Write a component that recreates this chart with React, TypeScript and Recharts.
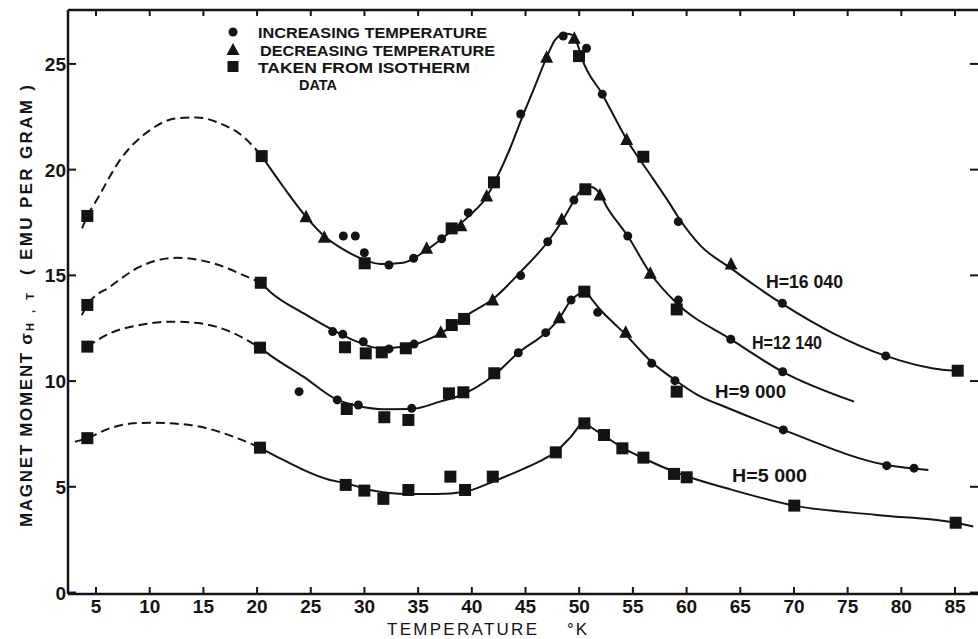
import React from 'react';
import { ComposedChart, Line, Scatter, XAxis, YAxis, ReferenceLine } from 'recharts';

const W = 978;
const H = 639;
const PLOT_TOP = 10;
const PLOT_RIGHT = 978;
const INK = '#141414';
const FONT = '"Liberation Sans", Arial, sans-serif';

const tempTicks = [5, 10, 15, 20, 25, 30, 35, 40, 45, 50, 55, 60, 65, 70, 75, 80, 85];
const momentTicks = [0, 5, 10, 15, 20, 25];
const tempDomain = [2.39, 87.14];
const momentDomain = [-0.07, 27.55];

// drawn curves, [T, sigma]; dashed = extrapolated below 20 K
const dash16040 = [[3.7, 17.22], [4.19, 17.81], [5.06, 18.56], [7.24, 20.46], [10.03, 21.87], [12.51, 22.43], [14.38, 22.47], [16.55, 22.19], [18.72, 21.56], [20.43, 20.64]];
const fit16040 = [[20.43, 20.64], [22.44, 19.19], [24.56, 17.77], [26.33, 16.83], [28.03, 16.23], [30.02, 15.73], [31.45, 15.54], [33.62, 15.6], [35.79, 16.2], [38.12, 17.11], [39.83, 17.85], [41.38, 18.72], [42.16, 19.45], [43.56, 21.0], [44.55, 22.3], [45.73, 23.76], [46.97, 25.31], [47.74, 26.13], [48.67, 26.44], [49.45, 26.36], [49.92, 25.81], [50.23, 25.3], [52.15, 23.57], [54.42, 21.43], [56.9, 19.55], [58.3, 18.5], [59.23, 17.75], [61.25, 16.43], [64.14, 15.33], [66.53, 14.46], [68.92, 13.65], [73.66, 12.26], [78.55, 11.19], [82.98, 10.6], [85.0, 10.49]];

const dash12140 = [[3.67, 13.12], [4.19, 13.6], [6.3, 14.46], [9.1, 15.41], [12.52, 15.83], [15.93, 15.57], [19.04, 14.94], [20.34, 14.65]];
const fit12140 = [[20.34, 14.65], [21.2, 14.23], [24.31, 13.21], [27.04, 12.42], [28.96, 11.94], [31.45, 11.55], [33.84, 11.63], [35.79, 11.94], [37.1, 12.26], [39.83, 13.21], [41.94, 13.87], [44.55, 15.17], [47.07, 16.59], [48.37, 17.54], [49.51, 18.53], [50.07, 18.96], [51.0, 19.19], [51.78, 18.96], [52.56, 18.25], [54.52, 16.86], [56.62, 15.1], [59.08, 13.68], [64.11, 11.98], [68.95, 10.44], [75.6, 9.03]];

const dash9000 = [[4.19, 11.63], [6.3, 12.26], [9.1, 12.65], [11.89, 12.81], [14.69, 12.73], [17.48, 12.34], [20.27, 11.58]];
const fit9000 = [[20.27, 11.58], [21.2, 11.23], [24.31, 10.21], [27.47, 9.11], [29.43, 8.82], [31.76, 8.67], [34.4, 8.68], [37.04, 9.03], [38.59, 9.26], [42.09, 10.29], [44.33, 11.34], [46.88, 12.29], [48.15, 12.97], [49.24, 13.83], [50.07, 14.15], [50.54, 14.26], [51.2, 13.85], [52.0, 13.35], [53.2, 12.75], [54.33, 12.2], [55.5, 11.55], [56.75, 10.9], [58.92, 10.05], [61.0, 9.35], [63.73, 8.75], [69.01, 7.69], [78.64, 6.03], [82.52, 5.8]];

const dash5000 = [[3.04, 7.13], [4.19, 7.3], [6.3, 7.77], [8.47, 8.0], [10.03, 8.03], [12.82, 7.97], [15.31, 7.77], [17.79, 7.37], [20.27, 6.85]];
const fit5000 = [[20.27, 6.85], [21.2, 6.59], [23.07, 6.11], [24.31, 5.8], [26.79, 5.32], [28.25, 5.17], [30.52, 4.85], [34.09, 4.66], [36.73, 4.66], [39.37, 4.77], [41.95, 5.24], [44.8, 5.85], [46.5, 6.25], [47.82, 6.66], [49.2, 7.35], [50.48, 8.05], [51.2, 7.78], [52.31, 7.42], [54.02, 6.85], [55.98, 6.35], [58.83, 5.72], [60.01, 5.5], [63.73, 4.93], [70.03, 4.11], [77.7, 3.67], [85.06, 3.3], [86.7, 3.12]];

// measured points: c = increasing T, t = decreasing T, s = from isotherm data
const pts16040 = [['s', 4.19, 17.81], ['s', 20.43, 20.64], ['t', 24.56, 17.77], ['t', 26.26, 16.8], ['c', 28.03, 16.86], ['c', 29.15, 16.86], ['c', 29.99, 16.07], ['s', 30.02, 15.57], ['c', 32.28, 15.49], ['c', 34.58, 15.81], ['t', 35.79, 16.28], ['c', 37.19, 16.73], ['s', 38.12, 17.22], ['t', 38.99, 17.35], ['c', 39.67, 17.96], ['t', 41.38, 18.75], ['s', 42.06, 19.4], ['c', 44.55, 22.63], ['t', 46.97, 25.31], ['c', 48.51, 26.32], ['t', 49.54, 26.21], ['c', 50.68, 25.74], ['s', 49.98, 25.37], ['c', 52.15, 23.57], ['t', 54.42, 21.43], ['s', 55.97, 20.61], ['c', 59.23, 17.54], ['t', 64.14, 15.54], ['c', 68.92, 13.68], ['c', 78.55, 11.19], ['s', 85.25, 10.49]];
const pts12140 = [['s', 4.19, 13.6], ['s', 20.34, 14.65], ['c', 27.04, 12.34], ['c', 27.98, 12.21], ['s', 28.19, 11.6], ['c', 29.89, 11.86], ['s', 30.12, 11.31], ['s', 31.61, 11.36], ['c', 32.29, 11.52], ['s', 33.85, 11.55], ['c', 34.62, 11.75], ['t', 37.11, 12.31], ['s', 38.13, 12.65], ['s', 39.28, 12.94], ['t', 41.94, 13.83], ['c', 44.55, 14.99], ['c', 47.07, 16.59], ['t', 48.37, 17.65], ['c', 49.51, 18.56], ['s', 50.57, 19.07], ['t', 51.93, 18.8], ['c', 54.52, 16.86], ['t', 56.62, 15.1], ['s', 59.08, 13.39], ['c', 59.23, 13.83], ['c', 64.11, 11.98], ['c', 68.95, 10.44]];
const pts9000 = [['s', 4.19, 11.63], ['s', 20.27, 11.58], ['c', 23.91, 9.5], ['c', 27.47, 9.11], ['s', 28.35, 8.68], ['c', 29.43, 8.87], ['s', 31.85, 8.29], ['s', 34.09, 8.16], ['c', 34.4, 8.71], ['s', 37.87, 9.42], ['s', 39.21, 9.47], ['s', 42.09, 10.37], ['c', 44.33, 11.34], ['c', 46.88, 12.29], ['t', 48.15, 13.0], ['c', 49.24, 13.83], ['s', 50.48, 14.23], ['c', 51.72, 13.25], ['t', 54.33, 12.31], ['c', 56.75, 10.84], ['c', 58.92, 10.02], ['s', 59.08, 9.5], ['c', 69.01, 7.69], ['c', 78.64, 6.0], ['c', 81.18, 5.88]];
const pts5000 = [['s', 4.19, 7.3], ['s', 20.27, 6.85], ['s', 28.25, 5.09], ['s', 29.99, 4.82], ['s', 31.76, 4.43], ['s', 34.09, 4.85], ['s', 38.0, 5.48], ['s', 39.37, 4.85], ['s', 41.95, 5.48], ['s', 47.82, 6.63], ['s', 50.48, 8.0], ['s', 52.31, 7.45], ['s', 54.02, 6.82], ['s', 55.98, 6.38], ['s', 58.83, 5.61], ['s', 60.01, 5.45], ['s', 70.03, 4.11], ['s', 85.06, 3.3]];

const fieldLabels = ['H=16 040', 'H=12 140', 'H=9 000', 'H=5 000'];
const legendLabels = ['INCREASING TEMPERATURE', 'DECREASING TEMPERATURE', 'TAKEN FROM ISOTHERM', 'DATA'];

const toPts = (a: number[][]) => a.map(([t, m]) => ({ t, m }));
const allPts = [...pts16040, ...pts12140, ...pts9000, ...pts5000] as [string, number, number][];
const byKind = (k: string) => allPts.filter(p => p[0] === k).map(([, t, m]) => ({ t, m }));

const curves = [
  { key: 'd16040', data: dash16040, dashed: true },
  { key: 'f16040', data: fit16040, dashed: false },
  { key: 'd12140', data: dash12140, dashed: true },
  { key: 'f12140', data: fit12140, dashed: false },
  { key: 'd9000', data: dash9000, dashed: true },
  { key: 'f9000', data: fit9000, dashed: false },
  { key: 'd5000', data: dash5000, dashed: true },
  { key: 'f5000', data: fit5000, dashed: false },
];

const Dot = (p: any) => <circle cx={p.cx} cy={p.cy} r={4.5} fill={INK} />;
const Tri = (p: any) => (
  <polygon points={`${p.cx},${p.cy - 7} ${p.cx + 6.5},${p.cy + 5.5} ${p.cx - 6.5},${p.cy + 5.5}`} fill={INK} />
);
const Sq = (p: any) => <rect x={p.cx - 6} y={p.cy - 6} width={12} height={12} fill={INK} />;

const TempTick = (p: any) => {
  const { x, y, payload } = p;
  return (
    <g>
      <line x1={x} x2={x} y1={y} y2={y - 7} stroke={INK} strokeWidth={2} />
      <line x1={x} x2={x} y1={PLOT_TOP} y2={PLOT_TOP + 6} stroke={INK} strokeWidth={2} />
      <text x={x} y={y + 19} textAnchor="middle" fontFamily={FONT} fontWeight="bold" fontSize={19} fill={INK}>
        {payload.value}
      </text>
    </g>
  );
};

const MomentTick = (p: any) => {
  const { x, y, payload } = p;
  return (
    <g>
      <line x1={x} x2={x + 8} y1={y} y2={y} stroke={INK} strokeWidth={2} />
      <line x1={PLOT_RIGHT} x2={PLOT_RIGHT - 8} y1={y} y2={y} stroke={INK} strokeWidth={2} />
      <text x={x - 2} y={y + 7} textAnchor="end" fontFamily={FONT} fontWeight="bold" fontSize={19} fill={INK}>
        {payload.value}
      </text>
    </g>
  );
};

const txt = { fontFamily: FONT, fill: INK } as const;

export default function App() {
  return (
    <div style={{ position: 'relative', width: W, height: H, background: '#fff' }}>
      <style>{'body{margin:0;background:#fff}'}</style>
      <ComposedChart width={W} height={H} margin={{ top: PLOT_TOP, right: 0, bottom: 0, left: 0 }}>
        <XAxis
          type="number"
          dataKey="t"
          domain={tempDomain}
          allowDataOverflow
          ticks={tempTicks}
          interval={0}
          tickSize={0}
          tickMargin={0}
          tick={<TempTick />}
          height={45}
          axisLine={{ stroke: INK, strokeWidth: 2.5 }}
        />
        <YAxis
          type="number"
          dataKey="m"
          domain={momentDomain}
          allowDataOverflow
          ticks={momentTicks}
          interval={0}
          tickSize={0}
          tickMargin={0}
          tick={<MomentTick />}
          width={68}
          axisLine={{ stroke: INK, strokeWidth: 2.5 }}
        />
        <ReferenceLine y={momentDomain[1]} stroke={INK} strokeWidth={2.5} />
        {curves.map(c => (
          <Line
            key={c.key}
            data={toPts(c.data)}
            dataKey="m"
            type="monotone"
            stroke={INK}
            strokeWidth={2}
            strokeDasharray={c.dashed ? '9 5' : undefined}
            dot={false}
            activeDot={false}
            isAnimationActive={false}
          />
        ))}
        <Scatter data={byKind('c')} shape={Dot} isAnimationActive={false} />
        <Scatter data={byKind('t')} shape={Tri} isAnimationActive={false} />
        <Scatter data={byKind('s')} shape={Sq} isAnimationActive={false} />
      </ComposedChart>

      <svg width={W} height={H} style={{ position: 'absolute', left: 0, top: 0, pointerEvents: 'none' }}>
        {/* legend */}
        <circle cx={233} cy={32} r={4.5} fill={INK} />
        <polygon points="233,43 239.5,55 226.5,55" fill={INK} />
        <rect x={227.5} y={61} width={11} height={11} fill={INK} />
        <text x={258} y={38} fontSize={15} fontWeight="bold" textLength={229} lengthAdjust="spacingAndGlyphs" {...txt}>{legendLabels[0]}</text>
        <text x={260} y={55.5} fontSize={15} fontWeight="bold" textLength={235} lengthAdjust="spacingAndGlyphs" {...txt}>{legendLabels[1]}</text>
        <text x={258} y={72.5} fontSize={15} fontWeight="bold" textLength={212} lengthAdjust="spacingAndGlyphs" {...txt}>{legendLabels[2]}</text>
        <text x={299} y={90} fontSize={15} fontWeight="bold" textLength={38} lengthAdjust="spacingAndGlyphs" {...txt}>{legendLabels[3]}</text>

        {/* field labels */}
        <text x={766} y={288} fontSize={18} fontWeight="bold" textLength={77} lengthAdjust="spacingAndGlyphs" {...txt}>{fieldLabels[0]}</text>
        <text x={752} y={349} fontSize={18} fontWeight="bold" textLength={70} lengthAdjust="spacingAndGlyphs" {...txt}>{fieldLabels[1]}</text>
        <text x={715} y={398} fontSize={18} fontWeight="bold" textLength={71} lengthAdjust="spacingAndGlyphs" {...txt}>{fieldLabels[2]}</text>
        <text x={732} y={482} fontSize={18} fontWeight="bold" textLength={75} lengthAdjust="spacingAndGlyphs" {...txt}>{fieldLabels[3]}</text>

        {/* axis titles */}
        <text x={387} y={635} fontSize={17} textLength={150} lengthAdjust="spacing" {...txt}>TEMPERATURE</text>
        <text x={567} y={635} fontSize={17} textLength={20} lengthAdjust="spacing" {...txt}>°K</text>

        <g transform="translate(32,527) rotate(-90)">
          <text x={0} y={0} fontSize={17} fontWeight="bold" textLength={194} lengthAdjust="spacing" {...txt}>MAGNET  MOMENT σ</text>
          <text x={196} y={2} fontSize={11} fontWeight="bold" textLength={38} lengthAdjust="spacing" {...txt}>H,T</text>
          <text x={252} y={0} fontSize={17} fontWeight="bold" textLength={190} lengthAdjust="spacing" {...txt}>( EMU PER GRAM )</text>
        </g>
      </svg>
    </div>
  );
}
